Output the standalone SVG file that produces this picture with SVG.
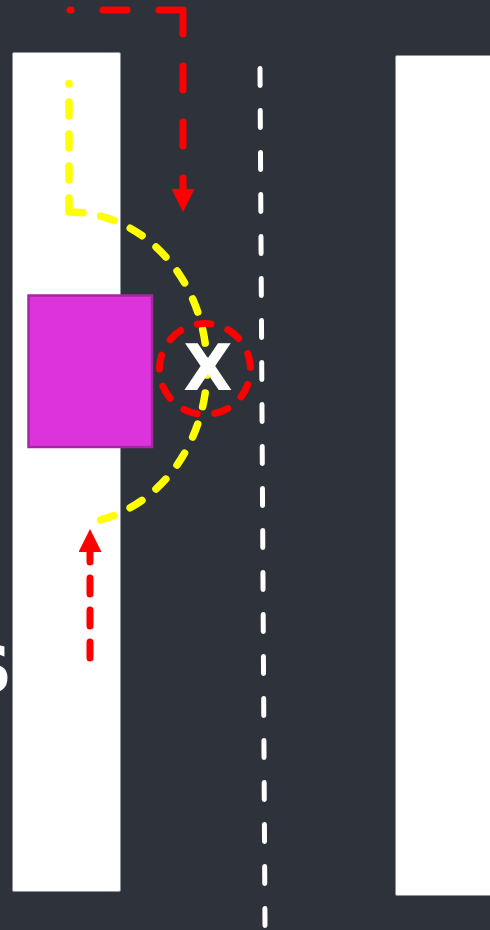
<svg xmlns="http://www.w3.org/2000/svg" width="490" height="930" viewBox="0 0 490 930">
  <style>
    .lane { fill: #ffffff; stroke: #8e939b; stroke-width: 1; }
    .red { fill: none; stroke: #ff0000; stroke-width: 7; stroke-linecap: round; stroke-linejoin: round; }
    .yel { fill: none; stroke: #ffff00; stroke-width: 7.5; stroke-linecap: round; stroke-dasharray: 14 18; }
    .mid { fill: none; stroke: #ffffff; stroke-width: 5; stroke-linecap: round; stroke-dasharray: 17 25; }
    .big { font-family: "DejaVu Sans", "Liberation Sans", sans-serif; font-weight: bold; font-size: 64px; fill: #ffffff; }
  </style>
  <defs>
    <marker id="arrow" viewBox="0 0 23 23" refX="0" refY="11.5" markerWidth="23" markerHeight="23" markerUnits="userSpaceOnUse" orient="auto">
      <path d="M0,0 L23,11.5 L0,23 Z" fill="#ff0000"/>
    </marker>
  </defs>
  <rect x="0" y="0" width="490" height="930" fill="#2e333b"/>

  <g id="lane-left">
    <rect class="lane" x="12.5" y="52.5" width="108" height="839" rx="1.5"/>
  </g>
  <g id="lane-right">
    <rect class="lane" x="395.5" y="55.5" width="100" height="840" rx="1.5"/>
  </g>
  <g id="center-line">
    <path class="mid" d="M260 68.5 L265 925.5"/>
  </g>
  <g id="label-s">
    <text class="big" x="-34" y="692" font-size="66">S</text>
  </g>
  <g id="car">
    <rect x="28.5" y="295.5" width="123.5" height="151.5" fill="#dd33dd" stroke="#a428a4" stroke-width="2.5"/>
  </g>

  <g id="connectors">
    <path class="yel" d="M69 212 V83.5 M69 212 A138 156 0 0 1 100 520"/>
    <path class="red" stroke-dasharray="24 32" d="M183 10 H70 M183 10 V189" marker-end="url(#arrow)"/>
    <path class="red" stroke-dasharray="16 16" d="M90 658 V552" marker-end="url(#arrow)"/>
  </g>

  <g id="collision">
    <circle cx="205" cy="369" r="45.5" class="red" stroke-dasharray="14 17.73" stroke-dashoffset="15.9"/>
    <text class="big" x="208" y="390" text-anchor="middle" font-size="66">X</text>
  </g>
</svg>
